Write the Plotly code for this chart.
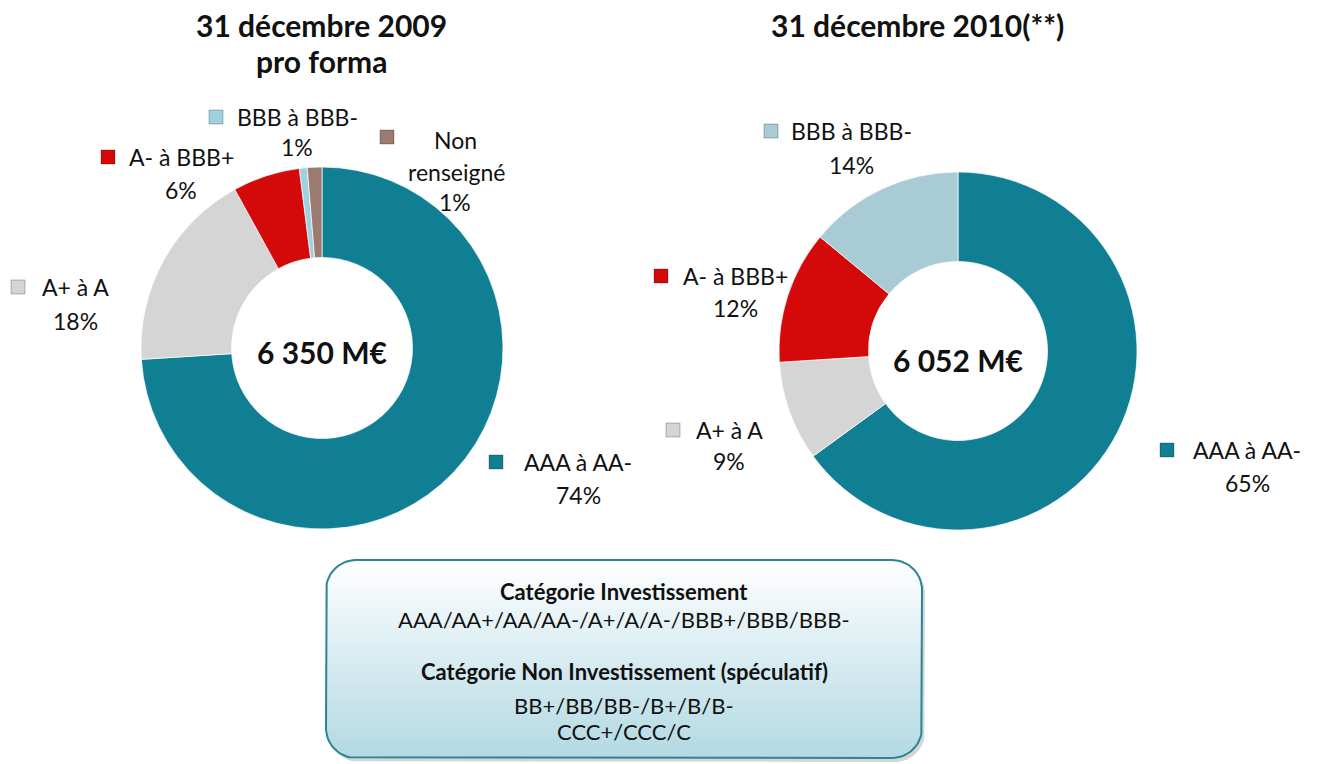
import numpy as np
import plotly.graph_objects as go

W, H = 1319, 764

# ---- data ----
labels_2009 = ["AAA à AA-", "A+ à A", "A- à BBB+", "BBB à BBB-", "Non renseigné"]
values_2009 = [74, 18, 6, 0.7, 1.3]
labels_2010 = ["AAA à AA-", "A+ à A", "A- à BBB+", "BBB à BBB-"]
values_2010 = [65, 9, 12, 14]
totals = ["6 350 M€", "6 052 M€"]
titles = ["31 décembre 2009<br>pro forma", "31 décembre 2010(**)"]
box_lines = [
    ("Catégorie Investissement", True),
    ("AAA/AA+/AA/AA-/A+/A/A-/BBB+/BBB/BBB-", False),
    ("Catégorie Non Investissement (spéculatif)", True),
    ("BB+/BB/BB-/B+/B/B-", False),
    ("CCC+/CCC/C", False),
]

colors = {
    "AAA à AA-": "#107F93",
    "A+ à A": "#D5D5D5",
    "A- à BBB+": "#D40A0A",
    "BBB à BBB-": "#A8CBD5",
    "Non renseigné": "#9C7A70",
}
colors_2009 = dict(colors, **{"BBB à BBB-": "#9ED0DE"})

FONT = "Gill Sans, Gill Sans MT, Lato, sans-serif"
LABEL_SIZE = 23


def px(x):
    return x / W


def py(y):
    return 1 - y / H


def pie_domain(cx, cy, r):
    return dict(x=[px(cx - r), px(cx + r)], y=[py(cy + r), py(cy - r)])


fig = go.Figure()

# ---- rounded gradient box (drawn on hidden pixel axes) ----
def rounded_rect(x0, y0, x1, y1, r, n=16):
    xs, ys = [], []
    corners = [
        (x1 - r, y0 + r, -np.pi / 2, 0),
        (x1 - r, y1 - r, 0, np.pi / 2),
        (x0 + r, y1 - r, np.pi / 2, np.pi),
        (x0 + r, y0 + r, np.pi, 1.5 * np.pi),
    ]
    for cx, cy, a0, a1 in corners:
        t = np.linspace(a0, a1, n)
        xs += list(cx + r * np.cos(t))
        ys += list(cy + r * np.sin(t))
    xs.append(xs[0])
    ys.append(ys[0])
    return xs, ys


bx0, by0, bx1, by1 = 326, 560, 922, 758
sx, sy = rounded_rect(bx0 + 3, by0 + 4, bx1 + 3, by1 + 4, 30)
fig.add_trace(go.Scatter(x=sx, y=sy, fill="toself", mode="lines",
                         line=dict(width=0), fillcolor="rgba(120,120,120,0.3)",
                         hoverinfo="skip", showlegend=False))
rx, ry = rounded_rect(bx0, by0, bx1, by1, 30)
fig.add_trace(go.Scatter(x=rx, y=[H - v for v in ry], fill="toself", mode="lines",
                         line=dict(width=2, color="#2A8595"),
                         fillgradient=dict(type="vertical",
                                           colorscale=[[0, "#B2D9E3"], [1, "#FFFFFF"]]),
                         hoverinfo="skip", showlegend=False, yaxis="y2"))

# ---- donuts ----
fig.add_trace(go.Pie(labels=labels_2009, values=values_2009, hole=0.5, sort=False,
                     direction="clockwise", rotation=0, textinfo="none",
                     marker=dict(colors=[colors_2009[l] for l in labels_2009],
                                 line=dict(color="rgba(255,255,255,0.7)", width=1)),
                     domain=pie_domain(322, 348, 181), showlegend=False))
fig.add_trace(go.Pie(labels=labels_2010, values=values_2010, hole=0.5, sort=False,
                     direction="clockwise", rotation=0, textinfo="none",
                     marker=dict(colors=[colors[l] for l in labels_2010],
                                 line=dict(color="rgba(255,255,255,0.7)", width=1)),
                     domain=pie_domain(958, 351, 179), showlegend=False))

annotations = []
shapes = []


def text(x, y, s, size=LABEL_SIZE, bold=False, color="#111111"):
    annotations.append(dict(x=px(x), y=py(y), xref="paper", yref="paper",
                            text=f"<b>{s}</b>" if bold else s, showarrow=False,
                            xanchor="center", yanchor="middle",
                            font=dict(family=FONT, size=size, color=color)))


def square(x, y, color, s=14):
    shapes.append(dict(type="rect", xref="paper", yref="paper",
                       x0=px(x - s / 2), x1=px(x + s / 2),
                       y0=py(y + s / 2), y1=py(y - s / 2),
                       fillcolor=color, line=dict(color="rgba(0,0,0,0.25)", width=1)))


def pct(v, vals):
    return f"{round(100 * v / sum(vals))}%"


# titles
tl = titles[0].split("<br>")
text(321, 25, tl[0], size=30, bold=True)
text(321, 61, tl[1], size=30, bold=True)
text(917, 25, titles[1], size=30, bold=True)

# centre totals
text(322, 352, totals[0], size=30, bold=True)
text(958, 360, totals[1], size=30, bold=True)

# 2009 labels: (square x, y, text centre x, pct y)
pos_2009 = {
    "AAA à AA-": (496, 462, 578, 495),
    "A+ à A": (18, 287, 75, 321),
    "A- à BBB+": (108, 157, 181, 190),
    "BBB à BBB-": (216, 117, 297, 147),
}
for lab, val in zip(labels_2009, values_2009):
    p = pct(val, values_2009)
    if lab == "Non renseigné":
        square(387, 137, colors_2009[lab])
        w1, w2 = lab.split(" ")
        text(455, 140, w1)
        text(456, 172, w2)
        text(455, 202, p)
        continue
    sqx, sqy, tx, ty = pos_2009[lab]
    square(sqx, sqy, colors_2009[lab])
    text(tx, sqy, lab)
    text(tx, ty, p)

pos_2010 = {
    "AAA à AA-": (1167, 450, 1247, 483),
    "A+ à A": (673, 430, 729, 461),
    "A- à BBB+": (661, 276, 735, 308),
    "BBB à BBB-": (771, 131, 851, 165),
}
for lab, val in zip(labels_2010, values_2010):
    p = pct(val, values_2010)
    sqx, sqy, tx, ty = pos_2010[lab]
    square(sqx, sqy, colors[lab])
    text(tx, sqy, lab)
    text(tx, ty, p)

# box text
box_y = [591, 619, 671, 705, 731]
for (s, b), yy in zip(box_lines, box_y):
    text(624, yy, s, size=22, bold=b)

fig.update_layout(
    width=W, height=H,
    margin=dict(l=0, r=0, t=0, b=0),
    paper_bgcolor="white", plot_bgcolor="rgba(0,0,0,0)",
    xaxis=dict(range=[0, W], visible=False, fixedrange=True),
    yaxis=dict(range=[H, 0], visible=False, fixedrange=True),
    yaxis2=dict(range=[0, H], visible=False, overlaying="y", fixedrange=True),
    annotations=annotations, shapes=shapes,
    showlegend=False,
)

fig.write_html("out.html", config={"displayModeBar": False},
               post_script="document.body.style.margin='0';")
